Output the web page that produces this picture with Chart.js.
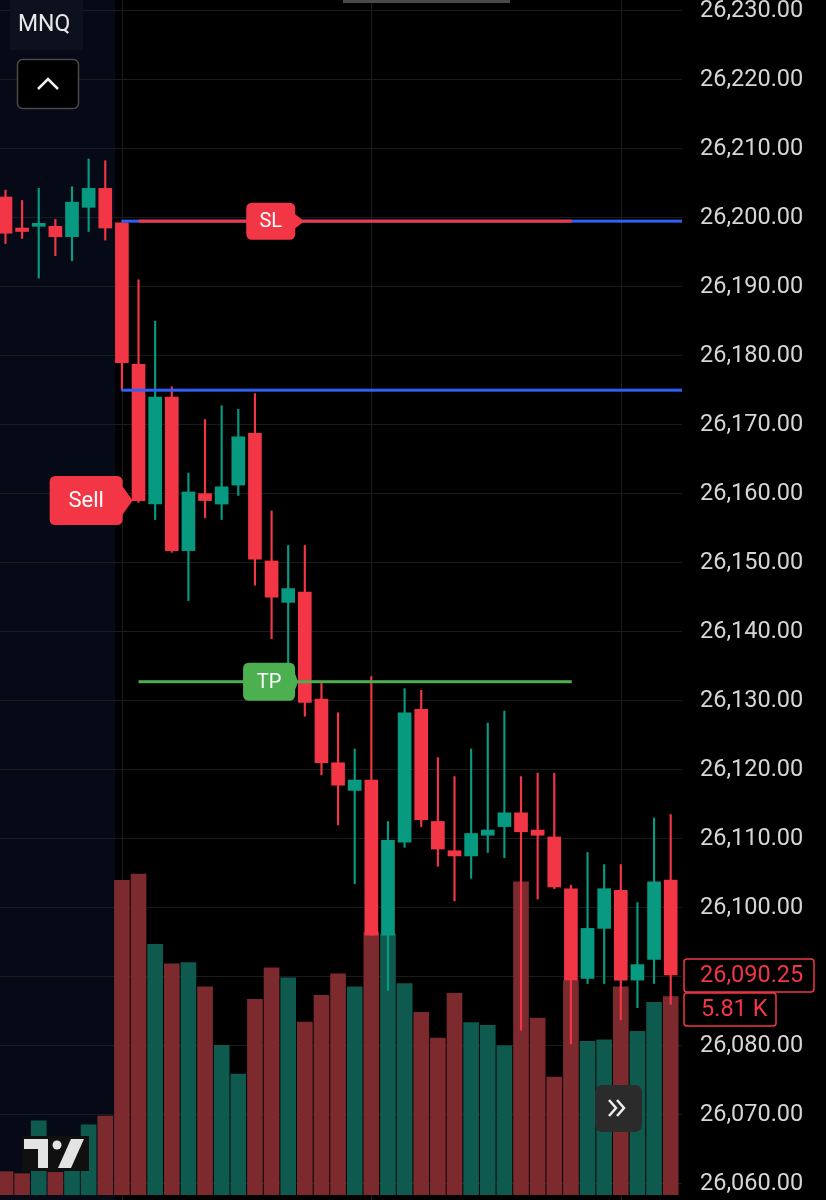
<!DOCTYPE html>
<html>
<head>
<meta charset="utf-8">
<script src="https://cdn.jsdelivr.net/npm/chart.js@4.4.0/dist/chart.umd.min.js"></script>
<style>
  body { margin: 0; background: #000; }
  #wrap { position: relative; width: 826px; height: 1200px; }
</style>
</head>
<body>
<div id="wrap"><canvas id="chart" width="826" height="1200"></canvas></div>
<script>
// OHLC + volume, one entry per bar
var opens  = [26203.0, 26198.5, 26198.75, 26198.75, 26197.25, 26201.5, 26204.25, 26199.25, 26178.75, 26158.5,
              26174.0, 26151.75, 26160.0, 26158.5, 26161.25, 26168.75, 26150.25, 26144.25, 26145.75, 26130.25,
              26121.0, 26117.0, 26118.5, 26096.0, 26109.5, 26128.75, 26112.5, 26108.25, 26107.5, 26110.5,
              26111.75, 26113.75, 26111.25, 26110.25, 26102.75, 26089.75, 26097.0, 26102.5, 26089.5, 26092.5, 26104.0];
var highs  = [26204.0, 26202.5, 26204.25, 26199.75, 26204.5, 26208.5, 26208.25, 26199.25, 26191.0, 26185.0,
              26175.5, 26163.0, 26170.75, 26172.75, 26172.25, 26174.5, 26157.5, 26152.5, 26152.5, 26132.5,
              26128.25, 26123.0, 26133.5, 26112.5, 26131.75, 26131.5, 26121.75, 26119.0, 26123.0, 26126.75,
              26128.5, 26119.0, 26119.5, 26119.5, 26103.25, 26108.0, 26106.25, 26106.25, 26100.75, 26113.0, 26113.5];
var lows   = [26196.25, 26197.0, 26191.25, 26194.5, 26193.75, 26198.0, 26196.75, 26175.0, 26158.75, 26156.25,
              26151.5, 26144.5, 26156.5, 26156.25, 26159.75, 26146.75, 26139.0, 26133.25, 26127.75, 26119.25,
              26112.0, 26103.5, 26096.0, 26088.0, 26108.75, 26111.75, 26106.0, 26101.0, 26104.25, 26108.0,
              26107.25, 26082.25, 26101.25, 26102.75, 26080.25, 26089.0, 26089.0, 26083.75, 26085.5, 26089.0, 26086.0];
var closes = [26197.75, 26198.0, 26199.0, 26197.25, 26202.25, 26204.25, 26198.5, 26179.0, 26159.0, 26174.0,
              26151.75, 26160.25, 26159.0, 26161.0, 26168.25, 26150.5, 26145.0, 26146.25, 26129.75, 26121.0,
              26117.75, 26118.5, 26096.0, 26109.75, 26128.25, 26112.75, 26108.5, 26107.5, 26110.75, 26111.25,
              26113.75, 26111.0, 26110.5, 26103.0, 26089.5, 26097.0, 26102.75, 26089.5, 26091.75, 26103.75, 26090.25];
var volumes = [684, 625, 2171, 666, 880, 2054, 2309, 9214, 9399, 7345,
               6769, 6808, 6094, 4381, 3542, 5731, 6652, 6359, 5067, 5848,
               6476, 6094, 7700, 7650, 6192, 5350, 4598, 5907, 5047, 4968,
               4372, 9176, 5185, 3454, 6280, 4499, 4548, 6094, 4792, 5643, 5810];

// order levels
var entryPrice = 26175.0;
var stopPrice = 26199.5;
var targetPrice = 26132.75;
var priceTicks = [26060, 26230];

var UP = '#089981', DOWN = '#f23645';
var UP_VOL = '#0e5a4f', DOWN_VOL = '#7d2a2e';

function isUp(i) { return closes[i] >= opens[i]; }
function fmt(v) {
  return v.toLocaleString('en-US', { minimumFractionDigits: 2, maximumFractionDigits: 2 });
}

function roundRectPath(ctx, x1, y1, x2, y2, r) {
  ctx.beginPath();
  ctx.moveTo(x1 + r, y1);
  ctx.arcTo(x2, y1, x2, y2, r);
  ctx.arcTo(x2, y2, x1, y2, r);
  ctx.arcTo(x1, y2, x1, y1, r);
  ctx.arcTo(x1, y1, x2, y1, r);
  ctx.closePath();
}

// rounded tag with a pointer on its right side
function tag(ctx, cx, cy, w, h, tip, notch, color, text, size) {
  var x1 = cx - w / 2, x2 = cx + w / 2, y1 = cy - h / 2, y2 = cy + h / 2, r = 6;
  ctx.beginPath();
  ctx.moveTo(x1 + r, y1);
  ctx.lineTo(x2 - r, y1);
  ctx.quadraticCurveTo(x2, y1, x2, y1 + r);
  ctx.lineTo(x2, cy - notch);
  ctx.lineTo(x2 + tip, cy);
  ctx.lineTo(x2, cy + notch);
  ctx.lineTo(x2, y2 - r);
  ctx.quadraticCurveTo(x2, y2, x2 - r, y2);
  ctx.lineTo(x1 + r, y2);
  ctx.quadraticCurveTo(x1, y2, x1, y2 - r);
  ctx.lineTo(x1, y1 + r);
  ctx.quadraticCurveTo(x1, y1, x1 + r, y1);
  ctx.closePath();
  ctx.fillStyle = color;
  ctx.fill();
  ctx.fillStyle = '#ffffff';
  ctx.font = size + 'px Roboto';
  ctx.textAlign = 'center';
  ctx.textBaseline = 'middle';
  ctx.fillText(text, cx, cy + 1);
}

var backdrop = {
  id: 'backdrop',
  beforeDraw: function(chart) {
    var ctx = chart.ctx, a = chart.chartArea, xs = chart.scales.x;
    ctx.save();
    ctx.fillStyle = '#000';
    ctx.fillRect(0, 0, chart.width, chart.height);
    // pre-session shading
    ctx.fillStyle = '#060a16';
    ctx.fillRect(a.left, a.top, xs.getPixelForValue(6.6) - a.left, chart.height);
    // vertical grid every 15 bars
    ctx.strokeStyle = '#1c1c1c';
    ctx.lineWidth = 1;
    [7, 22, 37].forEach(function(i) {
      var x = Math.round(xs.getPixelForValue(i)) + 0.5;
      ctx.beginPath();
      ctx.moveTo(x, 0);
      ctx.lineTo(x, chart.height);
      ctx.stroke();
    });
    ctx.restore();
  }
};

var overlay = {
  id: 'overlay',
  afterDraw: function(chart) {
    var ctx = chart.ctx, a = chart.chartArea, xs = chart.scales.x, ys = chart.scales.y;
    ctx.save();
    var xStart = xs.getPixelForValue(7) - 0.5;
    var xOrd = xs.getPixelForValue(8);
    var xEnd = xs.getPixelForValue(34.05);

    // position line
    var ye = ys.getPixelForValue(entryPrice);
    ctx.fillStyle = '#2f5ff5';
    ctx.fillRect(xStart, ye - 1.5, a.right - xStart, 3);
    // stop line
    var ysl = ys.getPixelForValue(stopPrice);
    ctx.fillRect(xStart, ysl - 1.5, a.right - xStart, 3);
    ctx.fillStyle = DOWN;
    ctx.fillRect(xOrd, ysl - 1.5, xEnd - xOrd, 3);
    // target line
    var ytp = ys.getPixelForValue(targetPrice);
    ctx.fillStyle = '#4caf50';
    ctx.fillRect(xOrd, ytp - 1.5, xEnd - xOrd, 3);

    tag(ctx, xs.getPixelForValue(15.95), ysl, 49, 37, 9, 7, DOWN, 'SL', 20);
    tag(ctx, xs.getPixelForValue(15.85), ytp, 52, 38, 3, 8, '#4caf50', 'TP', 20);
    tag(ctx, xs.getPixelForValue(4.85), ys.getPixelForValue(closes[8]), 73, 49, 10, 14, DOWN, 'Sell', 22);

    // last price / volume boxes
    var last = closes.length - 1;
    var yl = Math.round(ys.getPixelForValue(closes[last]));
    ctx.font = '23.5px Roboto';
    ctx.textAlign = 'left';
    ctx.textBaseline = 'middle';
    ctx.lineWidth = 1.5;
    ctx.strokeStyle = DOWN;
    ctx.fillStyle = '#000';
    roundRectPath(ctx, a.right + 2, yl - 16, a.right + 132, yl + 17, 3);
    ctx.fill(); ctx.stroke();
    roundRectPath(ctx, a.right + 2, yl + 18, a.right + 94, yl + 51, 3);
    ctx.fill(); ctx.stroke();
    ctx.fillStyle = DOWN;
    ctx.fillText(fmt(closes[last]), a.right + 18, yl + 1);
    ctx.fillText((volumes[last] / 1000).toFixed(2) + ' K', a.right + 19, yl + 35);

    // symbol chip and collapse button
    ctx.fillStyle = '#0c111d';
    ctx.fillRect(10, 0, 73, 50);
    ctx.fillStyle = '#e8e8e8';
    ctx.font = '23px Roboto';
    ctx.fillText('MNQ', 18, 25);
    ctx.fillStyle = '#000';
    ctx.strokeStyle = '#4a4a4a';
    ctx.lineWidth = 1.5;
    roundRectPath(ctx, 17.5, 59.5, 78.5, 108.5, 5);
    ctx.fill(); ctx.stroke();
    ctx.strokeStyle = '#f0f0f0';
    ctx.lineWidth = 2.5;
    ctx.beginPath();
    ctx.moveTo(38, 89); ctx.lineTo(48, 79); ctx.lineTo(58, 89);
    ctx.stroke();

    // top bar stub
    ctx.fillStyle = '#4a4a4a';
    ctx.fillRect(343, 0, 167, 3);

    // scroll-to-latest button
    ctx.fillStyle = '#2b2b2b';
    roundRectPath(ctx, 595, 1085, 642, 1132, 7);
    ctx.fill();
    ctx.strokeStyle = '#eeeeee';
    ctx.lineWidth = 2.5;
    ctx.beginPath();
    ctx.moveTo(609, 1100); ctx.lineTo(616, 1108); ctx.lineTo(609, 1116);
    ctx.moveTo(617, 1100); ctx.lineTo(624, 1108); ctx.lineTo(617, 1116);
    ctx.stroke();

    // logo
    ctx.fillStyle = '#101010';
    ctx.fillRect(22, 1136, 67, 35);
    ctx.fillStyle = '#e3e3e3';
    ctx.beginPath();
    ctx.moveTo(24, 1139); ctx.lineTo(48, 1139); ctx.lineTo(48, 1168); ctx.lineTo(38, 1168);
    ctx.lineTo(38, 1149); ctx.lineTo(24, 1149); ctx.closePath();
    ctx.fill();
    ctx.beginPath();
    ctx.arc(57, 1145, 4.5, 0, Math.PI * 2);
    ctx.fill();
    ctx.beginPath();
    ctx.moveTo(71, 1139); ctx.lineTo(84, 1139); ctx.lineTo(71, 1168); ctx.lineTo(58, 1168);
    ctx.closePath();
    ctx.fill();
    ctx.restore();
  }
};

var idx = opens.map(function(o, i) { return i; });

new Chart(document.getElementById('chart').getContext('2d'), {
  type: 'bar',
  data: {
    datasets: [
      {
        label: 'body',
        order: 1,
        data: idx.map(function(i) { return { x: i, y: [opens[i], closes[i]] }; }),
        backgroundColor: idx.map(function(i) { return isUp(i) ? UP : DOWN; }),
        barThickness: 13,
        minBarLength: 3,
        grouped: false,
        yAxisID: 'y'
      },
      {
        label: 'wick',
        order: 2,
        data: idx.map(function(i) { return { x: i, y: [lows[i], highs[i]] }; }),
        backgroundColor: idx.map(function(i) { return isUp(i) ? UP : DOWN; }),
        barThickness: 1.5,
        grouped: false,
        yAxisID: 'y'
      },
      {
        label: 'volume',
        order: 3,
        data: idx.map(function(i) { return { x: i, y: volumes[i] }; }),
        backgroundColor: idx.map(function(i) { return isUp(i) ? UP_VOL : DOWN_VOL; }),
        barThickness: 15,
        grouped: false,
        yAxisID: 'yv'
      }
    ]
  },
  options: {
    responsive: false,
    devicePixelRatio: 1,
    animation: false,
    layout: { padding: { left: 0, right: 0, top: 0, bottom: 5 } },
    plugins: { legend: { display: false }, tooltip: { enabled: false } },
    scales: {
      x: {
        type: 'linear',
        display: false,
        offset: false,
        min: -0.33,
        max: 40.68,
        grid: { display: false, offset: false }
      },
      yv: {
        type: 'linear',
        display: false,
        position: 'left',
        min: 0,
        max: 35000,
        grid: { display: false }
      },
      y: {
        type: 'linear',
        position: 'right',
        min: 26058.36,
        max: 26231.55,
        beginAtZero: false,
        border: { display: false },
        grid: { color: '#1b1b1b', drawTicks: false },
        ticks: {
          stepSize: 10,
          includeBounds: false,
          padding: 18,
          color: '#d6d6d6',
          font: { family: 'Roboto', size: 23.5 },
          callback: function(v) { return (v >= priceTicks[0] && v <= priceTicks[1]) ? fmt(v) : ''; }
        },
        afterFit: function(scale) {
          scale.width = 144;
          scale.paddingTop = 0;
          scale.paddingBottom = 0;
        }
      }
    }
  },
  plugins: [backdrop, overlay]
});
</script>
</body>
</html>
